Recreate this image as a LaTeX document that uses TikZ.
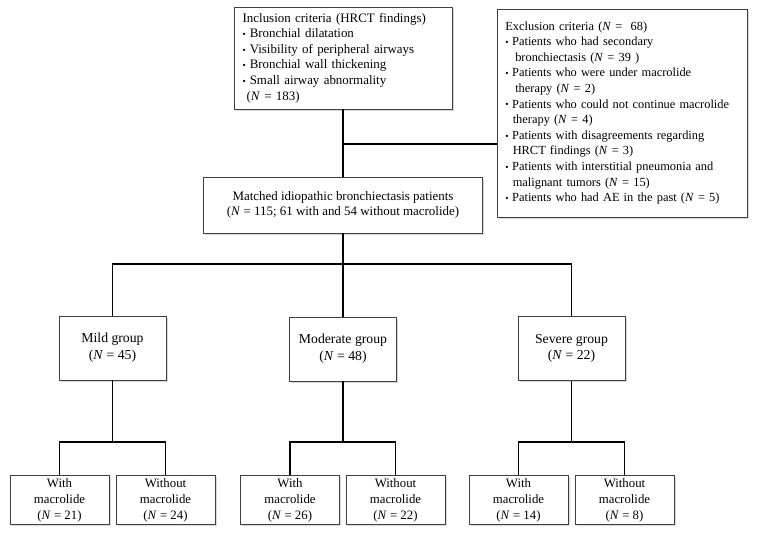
\documentclass[tikz,border=0pt]{standalone}
\usepackage{fontspec}
\setmainfont{Liberation Serif}
\usetikzlibrary{positioning}
\usetikzlibrary{shadows}
\tikzstyle{box}=[draw=black!75, line width=0.6pt, fill=white, drop shadow={shadow xshift=1.2pt, shadow yshift=-1.2pt, opacity=0.3}, font=\fontsize{9.7}{11.7}\selectfont]
\tikzstyle{listbox}=[box, align=left, inner xsep=6.5pt]
\tikzstyle{groupbox}=[box, align=center, minimum width=80.25pt, minimum height=48pt, font=\fontsize{10.3}{12.5}\selectfont]
\tikzstyle{armbox}=[box, align=center, minimum width=74.25pt, minimum height=36.75pt, inner sep=1pt, font=\fontsize{9.6}{12}\selectfont]
\tikzstyle{link}=[line width=1.4pt, black]
\newcommand{\bul}{\makebox[0.55em][l]{\raisebox{0.05ex}{\scriptsize\textbullet}}}
\newcommand{\nn}[1]{(\textit{N} = #1)}

\begin{document}
\begin{tikzpicture}[x=0.75pt,y=-0.75pt]
		\useasboundingbox (0,0) rectangle (758,533);
		% top of the flow
		\node[listbox, text width=150.5pt, minimum height=76.5pt] (incl) at (343,58) {Inclusion criteria (HRCT findings)\\
			\bul Bronchial dilatation\\
			\bul Visibility of peripheral airways\\
			\bul Bronchial wall thickening\\
			\bul Small airway abnormality\\
			\hspace*{0.3em}\nn{183}};
		\node[listbox, text width=175pt, minimum height=156pt, inner xsep=6.25pt, font=\fontsize{9.3}{11.7}\selectfont] (excl) at (622,113) {Exclusion criteria (\textit{N} =\ \ 68)\\
			\bul Patients who had secondary\\
			\hspace*{0.8em}bronchiectasis \nn{39\ }\\
			\bul Patients who were under macrolide\\
			\hspace*{0.8em}therapy \nn{2}\\
			\bul Patients who could not continue macrolide\\
			\hspace*{0.6em}therapy \nn{4}\\
			\bul Patients with disagreements regarding\\
			\hspace*{0.6em}HRCT findings \nn{3}\\
			\bul Patients with interstitial pneumonia and\\
			\hspace*{0.6em}malignant tumors \nn{15}\\
			\bul Patients who had AE in the past \nn{5}};
		\node[box, align=center, minimum width=209.25pt, minimum height=42pt] (match) at (343,205) {Matched idiopathic bronchiectasis patients\\(\textit{N} = 115; 61 with and 54 without macrolide)};
		% severity groups
		\node[groupbox] (mild) at (112.5,348) {Mild group\\\nn{45}};
		\node[groupbox] (moderate) at (343,349) {Moderate group\\\nn{48}};
		\node[groupbox] (severe) at (571.5,348.5) {Severe group\\\nn{22}};
		% macrolide arms
		\node[armbox] (mildw) at (59.5,500) {With\\macrolide\\\nn{21}};
		\node[armbox] (mildwo) at (165.5,500) {Without\\macrolide\\\nn{24}};
		\node[armbox] (modw) at (290,500) {With\\macrolide\\\nn{26}};
		\node[armbox] (modwo) at (395.5,500) {Without\\macrolide\\\nn{22}};
		\node[armbox] (sevw) at (518.5,500) {With\\macrolide\\\nn{14}};
		\node[armbox] (sevwo) at (624.5,500) {Without\\macrolide\\\nn{8}};
		\coordinate (exit) at (343,144);
		\coordinate (split) at (343,264);
		\coordinate (mildsplit) at (112.5,442);
		\coordinate (modsplit) at (343,442);
		\coordinate (sevsplit) at (571.5,442);
		\draw[link] (incl.south) -- (match.north);
		\draw[link] (exit) -- (exit -| excl.west);
		\draw[link] (match.south) -- (split);
		\draw[link] (mild.north) |- (split) -| (severe.north);
		\draw[link] (split) -- (moderate.north);
		\draw[link] (mild.south) -- (mildsplit);
		\draw[link] (mildw.north) |- (mildsplit) -| (mildwo.north);
		\draw[link] (moderate.south) -- (modsplit);
		\draw[link] (modw.north) |- (modsplit) -| (modwo.north);
		\draw[link] (severe.south) -- (sevsplit);
		\draw[link] (sevw.north) |- (sevsplit) -| (sevwo.north);
\end{tikzpicture}
\end{document}
